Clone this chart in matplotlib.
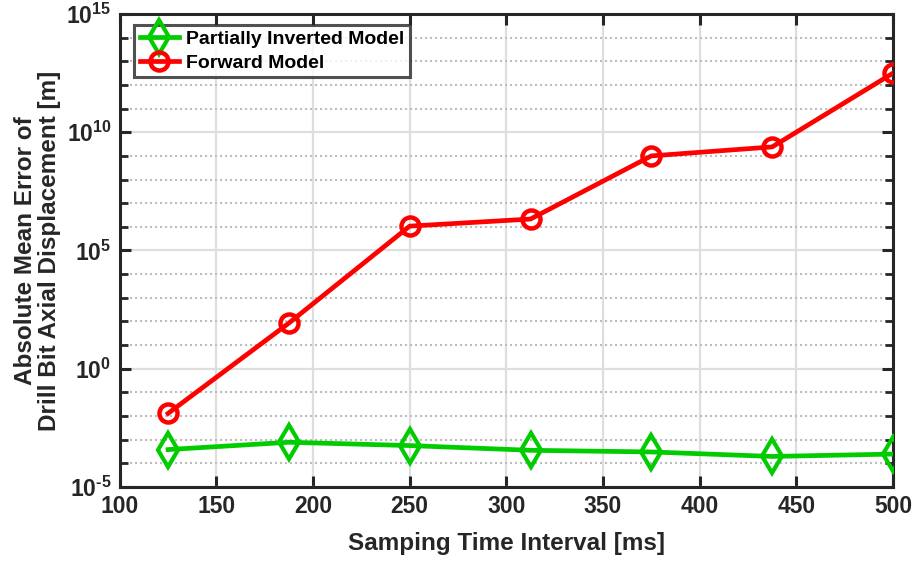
import numpy as np
import matplotlib
matplotlib.use("Agg")
import matplotlib.pyplot as plt
from matplotlib.ticker import FixedLocator, FuncFormatter

plt.rcParams['font.family'] = ['Liberation Sans', 'DejaVu Sans']
plt.rcParams['font.weight'] = 'bold'
plt.rcParams['mathtext.fontset'] = 'custom'
plt.rcParams['mathtext.rm'] = 'Liberation Sans:bold'
plt.rcParams['mathtext.bf'] = 'Liberation Sans:bold'

# Sampling intervals [ms]
intervals = [125, 187.5, 250, 312.5, 375, 437.5, 500]
# Absolute mean error of drill-bit axial displacement [m]
err_partial = [10**-3.42, 10**-3.11, 10**-3.25, 10**-3.45, 10**-3.52, 10**-3.71, 10**-3.61]
err_forward = [10**-1.89, 10**1.93, 10**6.03, 10**6.33, 10**9.0, 10**9.38, 10**12.5]

x_ticks = [100, 150, 200, 250, 300, 350, 400, 450, 500]
y_major = [1e-5, 1e0, 1e5, 1e10, 1e15]
y_minor = [10.0**k for k in range(-5, 16)]


def decade_label(v, pos):
    k = int(round(np.log10(v)))
    exp = str(k).replace('-', '\u2010')
    return r'$\mathbf{10^{%s}}$' % exp


fig = plt.figure(figsize=(9.14, 5.61), dpi=100)
ax = fig.add_axes([0.131, 0.132, 0.846, 0.843])

ax.plot(intervals, err_partial, color='#00cc00', lw=3.4, marker='d',
        markersize=17, markerfacecolor='none', markeredgewidth=3,
        label='Partially Inverted Model', zorder=4)
ax.plot(intervals, err_forward, color='#ff0000', lw=3.4, marker='o',
        markersize=13, markerfacecolor='none', markeredgewidth=3.2,
        label='Forward Model', zorder=4)

ax.set_yscale('log')
ax.set_xlim(100, 500)
ax.set_ylim(1e-5, 1e15)
ax.xaxis.set_major_locator(FixedLocator(x_ticks))
ax.yaxis.set_major_locator(FixedLocator(y_major))
ax.yaxis.set_minor_locator(FixedLocator(y_minor))
ax.yaxis.set_major_formatter(FuncFormatter(decade_label))
ax.yaxis.set_minor_formatter(FuncFormatter(lambda v, p: ''))

ax.grid(True, which='major', axis='both', color='#dedede', lw=1.6, ls='-', zorder=0)
ax.grid(True, which='minor', axis='y', color='#bdbdbd', lw=1.5, ls=(0, (1, 1.4)), zorder=0)
ax.set_axisbelow(True)

ax.tick_params(which='both', direction='in', top=True, right=True,
               colors='#262626', labelcolor='#262626', labelsize=16.5)
ax.tick_params(which='major', length=8, width=2.2, pad=6)
ax.tick_params(axis='y', which='major', pad=6)
ax.tick_params(which='minor', length=6, width=2)
for lab in ax.get_xticklabels():
    lab.set_fontweight('bold')
for s in ax.spines.values():
    s.set_linewidth(2.2)
    s.set_color('#262626')

ax.set_xlabel('Samping Time Interval [ms]', fontsize=17.5, fontweight='bold',
              color='#262626', labelpad=10)
ax.set_ylabel('Absolute Mean Error of\nDrill Bit Axial Displacement [m]',
              fontsize=17.5, fontweight='bold', color='#262626', labelpad=4,
              linespacing=1.05)

leg = ax.legend(loc='upper left', bbox_to_anchor=(0.006, 0.998), fontsize=14,
                frameon=True, fancybox=False, edgecolor='#262626',
                handlelength=2.0, borderpad=0.3, labelspacing=0.3,
                handletextpad=0.35, borderaxespad=0.5)
leg.get_frame().set_linewidth(2.2)
for t in leg.get_texts():
    t.set_fontweight('bold')

fig.savefig('out.png', dpi=100)
